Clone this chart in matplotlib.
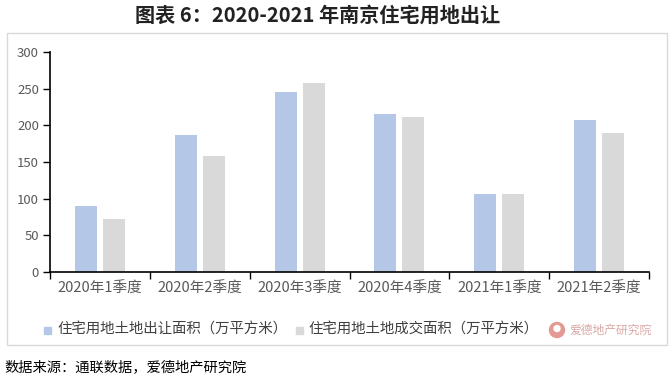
import numpy as np
import matplotlib
matplotlib.use("Agg")
import matplotlib.pyplot as plt
from matplotlib.patches import Rectangle, Ellipse

plt.rcParams['font.family'] = ['Noto Sans CJK SC', 'DejaVu Sans']

# Data
quarters = ["2020年1季度", "2020年2季度", "2020年3季度", "2020年4季度", "2021年1季度", "2021年2季度"]
supply_area = [90, 187, 245, 215, 106, 207]
deal_area = [72, 158, 258, 212, 106, 189]
series_names = ["住宅用地土地出让面积（万平方米）", "住宅用地土地成交面积（万平方米）"]

BLUE = "#B4C7E7"
GRAY = "#D9D9D9"
TEXT = "#595959"

fig = plt.figure(figsize=(6.72, 3.79), dpi=100)
W, H = 672, 379

# Outer chart frame
fig.patches.append(Rectangle((7 / W, 1 - 345 / H), 660 / W, 312 / H,
                             transform=fig.transFigure, fill=False,
                             edgecolor="#D9D9D9", linewidth=1.0))

ax = fig.add_axes([50 / W, 1 - 272 / H, 599 / W, 220 / H])
x = np.arange(len(quarters))
ax.bar(x - 0.14, supply_area, width=0.22, color=BLUE)
ax.bar(x + 0.14, deal_area, width=0.22, color=GRAY)

ax.set_xlim(-0.5, len(quarters) - 0.5)
ax.set_ylim(0, 300)
ax.set_yticks(range(0, 301, 50))
ax.set_xticks(x)
ax.set_xticklabels(quarters, fontsize=10.5, color=TEXT)
ax.set_xticks(np.arange(-0.5, len(quarters)), minor=True)
ax.tick_params(axis="x", which="major", length=0, pad=7)
ax.tick_params(axis="x", which="minor", length=5, width=1, color="black")
ax.tick_params(axis="y", length=5, width=1, labelsize=9.5, labelcolor=TEXT, pad=3)
for s in ["top", "right"]:
    ax.spines[s].set_visible(False)
for s in ["left", "bottom"]:
    ax.spines[s].set_linewidth(1.2)

# Title
fig.text(318 / W, 1 - 15 / H, "图表 6：2020-2021 年南京住宅用地出让",
         ha="center", va="center", fontsize=14.5, fontweight="bold", color="#222222")

# Legend
ly = 1 - 330 / H
fig.patches.append(Rectangle((44 / W, ly - 3.5 / H), 7 / W, 7 / H,
                             transform=fig.transFigure, color=BLUE))
fig.text(57 / W, ly, series_names[0], ha="left", va="center", fontsize=10.4, color="#404040")
fig.patches.append(Rectangle((296 / W, ly - 3.5 / H), 7 / W, 7 / H,
                             transform=fig.transFigure, color=GRAY))
fig.text(308 / W, ly, series_names[1], ha="left", va="center", fontsize=10.4, color="#404040")

# Watermark logo
fig.patches.append(Ellipse((557 / W, ly), 15 / W, 15 / H, transform=fig.transFigure,
                           color="#E39A92"))
fig.patches.append(Ellipse((557 / W, ly + 1.5 / H), 6 / W, 6 / H, transform=fig.transFigure,
                           color="white"))
fig.text(569 / W, ly, "爱德地产研究院", ha="left", va="center", fontsize=8.5, color="#D9A8A4")

# Source
fig.text(4 / W, 1 - 367 / H, "数据来源：通联数据，爱德地产研究院",
         ha="left", va="center", fontsize=10.3, color="black")

fig.savefig("out.png", dpi=100)
